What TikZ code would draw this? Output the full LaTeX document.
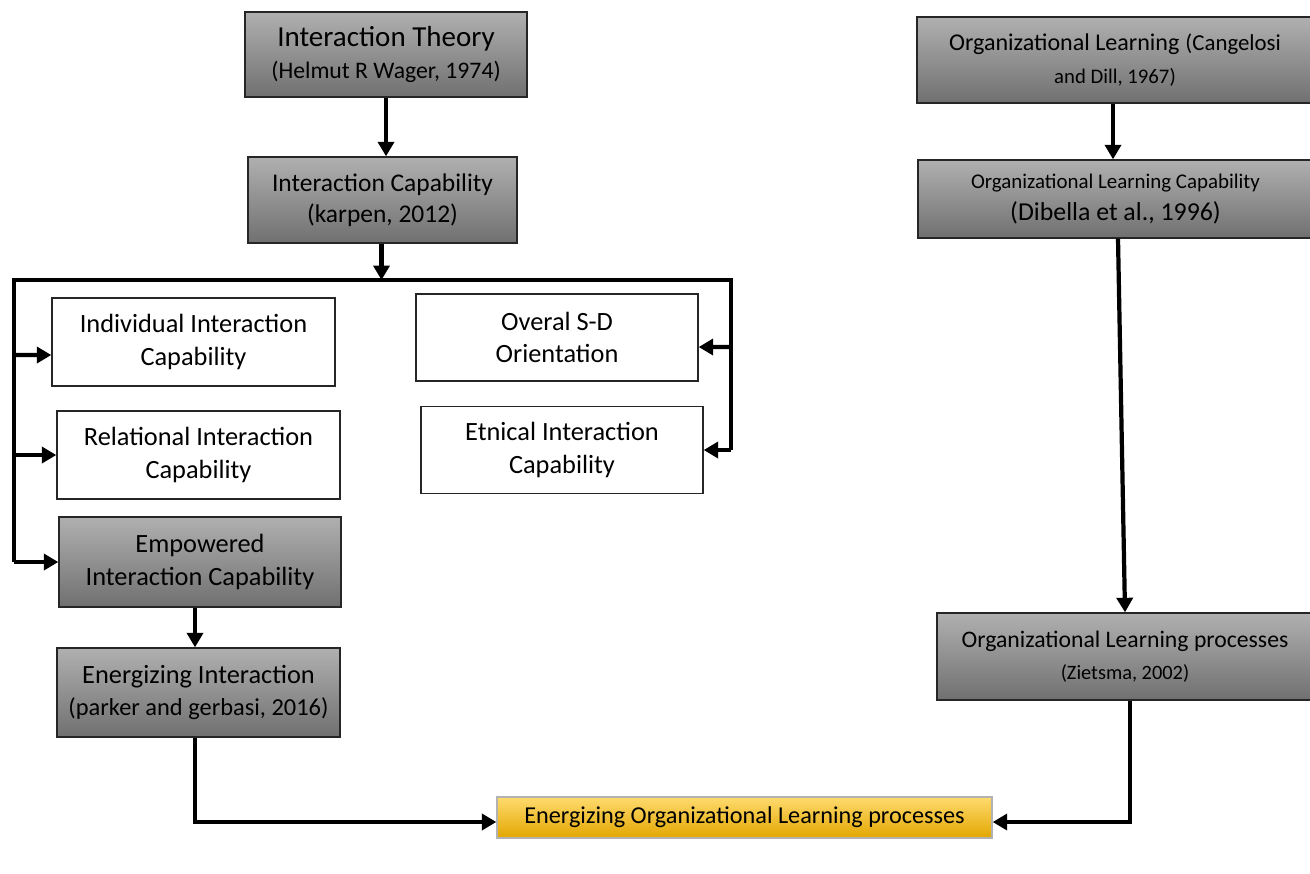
\documentclass[tikz,border=0pt]{standalone}
\usepackage{fontspec}
\setmainfont{Carlito}
\usepackage{xcolor}
\usepackage{tikz}
\usetikzlibrary{shapes, arrows.meta, positioning}

\definecolor{greytop}{RGB}{176,176,176}
\definecolor{greybot}{RGB}{112,112,112}
\definecolor{goldtop}{RGB}{255,219,110}
\definecolor{goldbot}{RGB}{226,166,0}
\newcommand{\fs}[1]{\fontsize{#1}{1.22\dimexpr #1pt\relax}\selectfont}

\begin{document}
\begin{tikzpicture}[x=0.02cm, y=-0.02cm,
            box/.style={draw=black!85, line width=0.8pt, rectangle, fill=white, align=center, inner sep=0pt, font=\fs{15}},
            greybox/.style={box, top color=greytop, bottom color=greybot},
            goldbox/.style={box, draw=black!30, top color=goldtop, bottom color=goldbot},
            arrow/.style={-{Triangle[width=0.32cm, length=0.29cm]}, line width=2.4pt},
            conn/.style={line width=2.4pt, line join=miter}]

            \useasboundingbox (0,0) rectangle (1310,873);

            % left column
            \node[greybox, minimum width=5.64cm, minimum height=1.7cm] (theory) at (386,54.5)
                {{\fs{16.5}Interaction Theory}\\{\fs{13.5}(Helmut R Wager, 1974)}};
            \node[greybox, minimum width=5.38cm, minimum height=1.72cm, font=\fs{14.5}] (intcap) at (382.5,200)
                {Interaction Capability\\(karpen, 2012)};

            \node[box, minimum width=5.66cm, minimum height=1.76cm] (indiv) at (193.5,342)
                {Individual Interaction\\Capability};
            \node[box, minimum width=5.66cm, minimum height=1.76cm] (relat) at (198.5,455)
                {Relational Interaction\\Capability};
            \node[greybox, minimum width=5.64cm, minimum height=1.8cm] (empow) at (200,562)
                {Empowered\\Interaction Capability};
            \node[box, minimum width=5.64cm, minimum height=1.74cm] (overal) at (557,337.5)
                {Overal S-D\\Orientation};
            \node[box, minimum width=5.64cm, minimum height=1.74cm] (ethic) at (562,450)
                {Etnical Interaction\\Capability};
            \node[greybox, minimum width=5.66cm, minimum height=1.78cm] (energint) at (198.5,692.5)
                {Energizing Interaction\\{\fs{13.9}(parker and gerbasi, 2016)}};

            % right column
            \node[greybox, minimum width=7.92cm, minimum height=1.72cm] (orglearn) at (1115,60)
                {{\fs{13.7}Organizational Learning} {\fs{13}(Cangelosi}\\{\fs{11.8}and Dill, 1967)}};
            \node[greybox, minimum width=7.9cm, minimum height=1.56cm] (orgcap) at (1115.5,199)
                {{\fs{11.9}Organizational Learning Capability}\\{\fs{14.7}(Dibella et al., 1996)}};
            \node[greybox, minimum width=7.52cm, minimum height=1.74cm] (orgproc) at (1125,656.5)
                {{\fs{13.5}Organizational Learning processes}\\{\fs{11.6}(Zietsma, 2002)}};

            % outcome
            \node[goldbox, minimum width=9.9cm, minimum height=0.82cm, font=\fs{13.8}] (energorg) at (744.5,817.5)
                {Energizing Organizational Learning processes};

            % bus below Interaction Capability
            \coordinate (busL) at (14,280);
            \coordinate (busR) at (731,280);

            \draw[arrow] (theory.south) -- (theory.south |- intcap.north);
            \draw[arrow] ([xshift=-0.02cm]intcap.south) -- ([xshift=-0.02cm]intcap.south |- busL);
            \draw[conn] (busL |- empow.west) -- (busL) -- (busR) -- (busR |- ethic.east);
            \draw[arrow] (busL |- 0,355) -- ([yshift=-0.26cm]indiv.west);
            \draw[arrow] (busL |- relat.west) -- (relat.west);
            \draw[arrow] (busL |- empow.west) -- (empow.west);
            \draw[arrow] (busR |- 0,347) -- ([yshift=-0.19cm]overal.east);
            \draw[arrow] (busR |- ethic.east) -- (ethic.east);
            \draw[arrow] ([xshift=-0.1cm]empow.south) -- ([xshift=-0.1cm]empow.south |- energint.north);
            \draw[arrow] ([xshift=-0.07cm]energint.south) |- ([yshift=-0.09cm]energorg.west);

            \draw[arrow] ([xshift=-0.04cm]orglearn.south) -- ([xshift=-0.04cm]orglearn.south |- orgcap.north);
            \draw[arrow] ([xshift=0.05cm]orgcap.south) -- (orgproc.north);
            \draw[arrow] ([xshift=0.1cm]orgproc.south) |- ([yshift=-0.09cm]energorg.east);
        \end{tikzpicture}
\end{document}
